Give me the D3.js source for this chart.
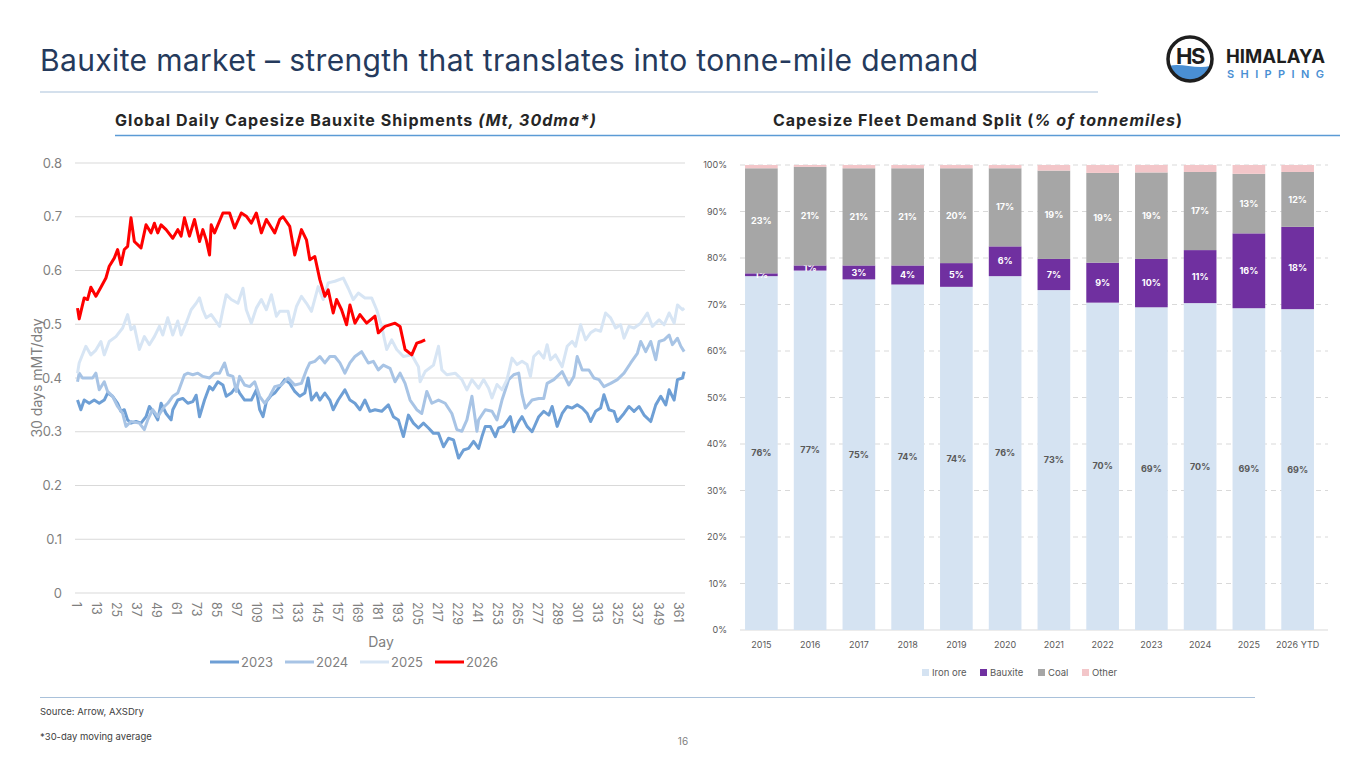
<!DOCTYPE html>
<html lang="en">
<head>
<meta charset="UTF-8">
<script src="https://d3js.org/d3.v7.min.js"></script>
<style>
  body { margin: 0; background: #fff; font-family: Inter, "Open Sans", sans-serif; }
  svg text { font-family: Inter, "Open Sans", sans-serif; }
</style>
</head>
<body>
<svg id="slide" width="1365" height="768"></svg>
<script>
// ---- left chart: 30dma shipments, [day, Mt] ----
const s2023 = [[2,0.359],[4,0.341],[6,0.359],[9,0.353],[12,0.359],[15,0.353],[18,0.359],[20,0.372],[23,0.366],[26,0.353],[28,0.338],[30,0.341],[32,0.322],[34,0.316],[37,0.319],[40,0.316],[43,0.328],[45,0.347],[48,0.334],[50,0.322],[52,0.353],[55,0.334],[58,0.322],[59,0.341],[62,0.359],[65,0.362],[68,0.353],[71,0.356],[73,0.368],[75,0.328],[78,0.359],[81,0.384],[83,0.378],[86,0.393],[89,0.387],[91,0.366],[94,0.372],[97,0.384],[99,0.372],[102,0.359],[106,0.359],[109,0.378],[111,0.341],[113,0.328],[115,0.356],[118,0.368],[120,0.372],[123,0.384],[126,0.397],[129,0.390],[132,0.375],[135,0.366],[138,0.372],[140,0.400],[142,0.359],[145,0.372],[147,0.359],[150,0.372],[153,0.359],[155,0.341],[158,0.359],[162,0.378],[165,0.359],[168,0.353],[171,0.341],[174,0.359],[177,0.338],[180,0.341],[184,0.338],[188,0.350],[191,0.328],[194,0.322],[197,0.291],[200,0.331],[203,0.316],[206,0.307],[209,0.316],[212,0.307],[215,0.297],[218,0.297],[221,0.272],[224,0.288],[227,0.285],[230,0.251],[233,0.266],[236,0.269],[239,0.282],[242,0.269],[244,0.291],[246,0.310],[249,0.310],[252,0.291],[254,0.307],[257,0.310],[261,0.328],[263,0.300],[266,0.319],[268,0.328],[271,0.310],[274,0.300],[278,0.328],[281,0.338],[284,0.331],[286,0.347],[289,0.310],[292,0.334],[295,0.347],[298,0.344],[301,0.350],[304,0.344],[307,0.334],[309,0.319],[312,0.338],[315,0.344],[317,0.369],[320,0.341],[323,0.338],[325,0.319],[329,0.334],[332,0.347],[335,0.338],[338,0.347],[341,0.331],[345,0.319],[348,0.350],[351,0.366],[354,0.350],[356,0.378],[359,0.359],[361,0.397],[364,0.400],[365,0.412]];

const s2024 = [[2,0.393],[3,0.409],[5,0.400],[11,0.400],[13,0.409],[15,0.378],[18,0.393],[20,0.375],[23,0.366],[26,0.347],[29,0.334],[31,0.310],[34,0.319],[39,0.316],[42,0.304],[44,0.322],[47,0.341],[50,0.328],[54,0.347],[56,0.353],[59,0.366],[62,0.372],[66,0.406],[68,0.409],[71,0.406],[74,0.409],[77,0.403],[81,0.400],[84,0.409],[87,0.409],[90,0.428],[92,0.406],[95,0.403],[97,0.375],[99,0.403],[102,0.387],[105,0.384],[108,0.393],[111,0.366],[114,0.353],[117,0.366],[120,0.384],[124,0.387],[128,0.400],[132,0.387],[136,0.390],[139,0.415],[141,0.428],[144,0.431],[147,0.440],[150,0.428],[153,0.440],[156,0.440],[159,0.428],[162,0.409],[165,0.428],[168,0.440],[172,0.449],[176,0.428],[179,0.431],[182,0.415],[185,0.424],[189,0.418],[192,0.393],[195,0.409],[198,0.390],[201,0.359],[205,0.341],[208,0.334],[211,0.375],[214,0.353],[218,0.359],[222,0.353],[226,0.334],[229,0.304],[232,0.301],[235,0.322],[238,0.366],[241,0.301],[242,0.322],[246,0.341],[250,0.338],[253,0.322],[256,0.359],[260,0.397],[263,0.406],[266,0.409],[268,0.369],[270,0.344],[274,0.359],[278,0.362],[281,0.362],[283,0.390],[287,0.397],[292,0.412],[296,0.387],[299,0.403],[301,0.440],[304,0.415],[308,0.415],[311,0.400],[314,0.397],[317,0.384],[321,0.390],[325,0.397],[329,0.409],[333,0.428],[337,0.446],[339,0.468],[342,0.449],[345,0.468],[348,0.434],[350,0.468],[353,0.471],[356,0.480],[358,0.462],[361,0.474],[363,0.459],[365,0.449]];

const s2025 = [[2,0.409],[3,0.428],[7,0.459],[10,0.443],[13,0.452],[16,0.468],[18,0.443],[21,0.468],[25,0.477],[29,0.493],[32,0.518],[34,0.490],[36,0.496],[39,0.453],[42,0.477],[45,0.462],[48,0.477],[51,0.496],[53,0.480],[56,0.512],[59,0.480],[62,0.506],[64,0.480],[67,0.502],[70,0.527],[73,0.539],[75,0.549],[77,0.527],[79,0.512],[82,0.518],[87,0.496],[89,0.527],[91,0.555],[94,0.546],[98,0.539],[101,0.567],[103,0.527],[106,0.502],[109,0.530],[112,0.546],[115,0.527],[118,0.555],[121,0.515],[123,0.524],[128,0.524],[130,0.496],[133,0.533],[136,0.552],[139,0.539],[142,0.524],[146,0.570],[149,0.546],[152,0.577],[156,0.580],[161,0.586],[164,0.567],[167,0.546],[170,0.558],[174,0.549],[178,0.549],[181,0.527],[184,0.496],[187,0.453],[190,0.471],[193,0.453],[197,0.440],[202,0.443],[206,0.421],[207,0.393],[210,0.412],[215,0.424],[218,0.459],[220,0.415],[223,0.406],[228,0.409],[232,0.397],[235,0.378],[238,0.397],[242,0.381],[245,0.397],[248,0.381],[250,0.363],[253,0.388],[256,0.378],[259,0.397],[262,0.437],[265,0.425],[268,0.431],[271,0.425],[273,0.403],[275,0.440],[278,0.449],[281,0.437],[283,0.462],[285,0.434],[288,0.443],[292,0.421],[295,0.459],[298,0.468],[300,0.459],[303,0.499],[306,0.471],[309,0.484],[312,0.490],[315,0.487],[318,0.521],[321,0.512],[324,0.493],[327,0.499],[329,0.474],[332,0.496],[335,0.493],[339,0.502],[343,0.521],[346,0.496],[350,0.508],[353,0.499],[356,0.521],[359,0.502],[361,0.536],[364,0.527],[365,0.530]];

const s2026 = [[2,0.530],[3,0.510],[6,0.549],[8,0.546],[10,0.569],[13,0.552],[16,0.569],[19,0.586],[21,0.608],[24,0.623],[26,0.639],[28,0.611],[30,0.639],[32,0.645],[34,0.698],[36,0.654],[40,0.642],[43,0.685],[46,0.670],[48,0.688],[50,0.670],[52,0.685],[55,0.676],[59,0.660],[62,0.676],[64,0.664],[66,0.698],[69,0.664],[72,0.695],[75,0.654],[77,0.676],[79,0.657],[81,0.629],[82,0.685],[84,0.670],[89,0.707],[93,0.707],[96,0.679],[100,0.707],[103,0.701],[106,0.688],[109,0.707],[112,0.670],[115,0.695],[118,0.680],[120,0.670],[123,0.695],[125,0.700],[129,0.682],[132,0.629],[136,0.676],[139,0.657],[141,0.620],[144,0.626],[147,0.583],[150,0.552],[152,0.564],[155,0.521],[157,0.546],[160,0.527],[163,0.499],[165,0.536],[168,0.502],[171,0.518],[175,0.502],[180,0.515],[182,0.484],[186,0.496],[192,0.502],[195,0.496],[198,0.453],[202,0.443],[205,0.465],[208,0.468],[210,0.471]];

const seriesNames = ["2023", "2024", "2025", "2026"];
const seriesColors = ["#6e9fd5", "#a8c4e5", "#d7e5f4", "#ff0000"];
const dayTicks = [1,13,25,37,49,61,73,85,97,109,121,133,145,157,169,181,193,205,217,229,241,253,265,277,289,301,313,325,337,349,361];
const shipTicks = [0, 0.1, 0.2, 0.3, 0.4, 0.5, 0.6, 0.7, 0.8];

// ---- right chart: fleet demand split, % of tonnemiles ----
const years   = ["2015","2016","2017","2018","2019","2020","2021","2022","2023","2024","2025","2026 YTD"];
const ironOre = [76.1, 77.3, 75.4, 74.3, 73.8, 76.1, 73.1, 70.4, 69.4, 70.3, 69.2, 69.0];
const bauxite = [0.6, 1.1, 3.0, 4.1, 5.1, 6.4, 6.7, 8.6, 10.4, 11.4, 16.1, 17.7];
const coal    = [22.6, 21.2, 20.9, 20.9, 20.4, 16.8, 19.0, 19.3, 18.6, 16.8, 12.8, 11.8];
const other   = [0.7, 0.4, 0.7, 0.7, 0.7, 0.7, 1.2, 1.7, 1.6, 1.5, 1.9, 1.5];
const splitKeys = ["Iron ore", "Bauxite", "Coal", "Other"];
const splitColors = ["#d5e3f2", "#7030a0", "#a6a6a6", "#f3c6c9"];
const pctTicks = [0,10,20,30,40,50,60,70,80,90,100];

const svg = d3.select("#slide");
const grey = "#7f7f7f";

// ---------- header ----------
svg.append("text").attr("x", 40).attr("y", 71)
  .attr("font-size", 30).attr("fill", "#253a5c")
  .attr("textLength", 938).attr("lengthAdjust", "spacing")
  .text("Bauxite market – strength that translates into tonne-mile demand");
svg.append("line").attr("x1", 40).attr("x2", 1098).attr("y1", 92).attr("y2", 92)
  .attr("stroke", "#a9c1da").attr("stroke-width", 1);

// logo
const logo = svg.append("g").attr("transform", "translate(1190,59)");
logo.append("clipPath").attr("id", "lc").append("circle").attr("r", 21);
logo.append("path").attr("clip-path", "url(#lc)")
  .attr("d", "M-24,8 C-10,2 6,12 24,6 L24,24 L-24,24 Z").attr("fill", "#4a8fd3");
logo.append("circle").attr("r", 22).attr("fill", "none").attr("stroke", "#1e1e1e").attr("stroke-width", 3.5);
logo.append("text").attr("x", 0).attr("y", 5).attr("text-anchor", "middle")
  .attr("font-size", 22).attr("font-weight", 700).attr("fill", "#1e1e1e")
  .attr("letter-spacing", -1.5).text("HS");
svg.append("text").attr("x", 1226).attr("y", 63).attr("font-size", 18.5).attr("font-weight", 700)
  .attr("fill", "#1e1e1e").attr("textLength", 99).text("HIMALAYA");
svg.append("text").attr("x", 1227).attr("y", 78).attr("font-size", 11).attr("font-weight", 600)
  .attr("fill", "#4a8fd3").attr("textLength", 97).text("SHIPPING");

// subtitles
const sub1 = svg.append("text").attr("x", 356).attr("y", 126).attr("text-anchor", "middle")
  .attr("font-size", 16).attr("font-weight", 700).attr("fill", "#262626").attr("letter-spacing", 1);
sub1.append("tspan").text("Global Daily Capesize Bauxite Shipments ");
sub1.append("tspan").attr("font-style", "italic").text("(Mt, 30dma*)");
const sub2 = svg.append("text").attr("x", 978).attr("y", 126).attr("text-anchor", "middle")
  .attr("font-size", 16).attr("font-weight", 700).attr("fill", "#262626").attr("letter-spacing", 1);
sub2.append("tspan").text("Capesize Fleet Demand Split (");
sub2.append("tspan").attr("font-style", "italic").text("% of tonnemiles");
sub2.append("tspan").text(")");
svg.append("line").attr("x1", 115).attr("x2", 1340).attr("y1", 135.5).attr("y2", 135.5)
  .attr("stroke", "#5b9bd5").attr("stroke-width", 1.5);

// ---------- left line chart ----------
const x = d3.scaleLinear().domain([0.5, 365.5]).range([75, 685]);
const y = d3.scaleLinear().domain([0, 0.8]).range([593, 163]);

const gl = svg.append("g");
gl.append("g").selectAll("line").data(shipTicks).join("line")
  .attr("x1", 75).attr("x2", 685).attr("y1", d => y(d)).attr("y2", d => y(d))
  .attr("stroke", "#d9d9d9").attr("stroke-width", 1);

gl.append("g").attr("transform", "translate(75,0)")
  .call(d3.axisLeft(y).tickValues(shipTicks).tickSize(0).tickPadding(13).tickFormat(d3.format("~g")))
  .call(g => g.select(".domain").remove())
  .selectAll("text").attr("font-size", 13).attr("fill", grey);

gl.append("g").attr("transform", "translate(0,593)")
  .call(d3.axisBottom(x).tickValues(dayTicks).tickSize(0))
  .call(g => g.select(".domain").remove())
  .selectAll("text")
  .attr("font-size", 12.5).attr("fill", grey)
  .attr("transform", "rotate(90)").attr("x", 9).attr("y", 0).attr("dy", "0.35em")
  .style("text-anchor", "start");

const line = d3.line().x(d => x(d[0])).y(d => y(d[1]));
[s2023, s2024, s2025, s2026].forEach((s, i) => {
  gl.append("path").datum(s).attr("d", line).attr("fill", "none")
    .attr("stroke", seriesColors[i]).attr("stroke-width", 3).attr("stroke-linejoin", "round");
});

gl.append("text").attr("x", 381).attr("y", 647).attr("text-anchor", "middle")
  .attr("font-size", 14).attr("fill", grey).text("Day");
gl.append("text").attr("transform", "translate(42,378) rotate(-90)").attr("text-anchor", "middle")
  .attr("font-size", 14).attr("fill", grey).text("30 days mMT/day");

const legX = [210, 285, 360, 435];
seriesNames.forEach((n, i) => {
  gl.append("line").attr("x1", legX[i]).attr("x2", legX[i] + 29).attr("y1", 662).attr("y2", 662)
    .attr("stroke", seriesColors[i]).attr("stroke-width", 3);
  gl.append("text").attr("x", legX[i] + 31).attr("y", 667).attr("font-size", 13)
    .attr("fill", grey).text(n);
});

// ---------- right stacked bars ----------
const rows = years.map((yr, i) => ({ year: yr, "Iron ore": ironOre[i], "Bauxite": bauxite[i], "Coal": coal[i], "Other": other[i] }));
const stack = d3.stack().keys(splitKeys)(rows);

const xb = d3.scaleBand().domain(years).range([737, 1322]).paddingInner(0.33).paddingOuter(0.165);
const yb = d3.scaleLinear().domain([0, 100]).range([630, 165]);

const gr = svg.append("g");
gr.append("g").selectAll("line").data(pctTicks.slice(1)).join("line")
  .attr("x1", 740).attr("x2", 1328).attr("y1", d => yb(d)).attr("y2", d => yb(d))
  .attr("stroke", "#d9d9d9").attr("stroke-dasharray", "5,4");
gr.append("line").attr("x1", 740).attr("x2", 1328).attr("y1", yb(0)).attr("y2", yb(0)).attr("stroke", "#d9d9d9");

gr.append("g").attr("transform", "translate(740,0)")
  .call(d3.axisLeft(yb).tickValues(pctTicks).tickSize(0).tickPadding(13).tickFormat(d => d + "%"))
  .call(g => g.select(".domain").remove())
  .selectAll("text").attr("font-size", 9).attr("fill", "#595959");

gr.append("g").attr("transform", "translate(0,630)")
  .call(d3.axisBottom(xb).tickSize(0).tickPadding(12))
  .call(g => g.select(".domain").remove())
  .selectAll("text").attr("font-size", 9).attr("fill", "#595959");

stack.forEach((layer, k) => {
  gr.append("g").attr("fill", splitColors[k]).selectAll("rect").data(layer).join("rect")
    .attr("x", d => xb(d.data.year)).attr("width", xb.bandwidth())
    .attr("y", d => yb(d[1])).attr("height", d => yb(d[0]) - yb(d[1]));
  if (k < 3) {
    gr.append("g").selectAll("text").data(layer).join("text")
      .attr("x", d => xb(d.data.year) + xb.bandwidth() / 2)
      .attr("y", d => yb((d[0] + d[1]) / 2)).attr("dy", "0.35em")
      .attr("text-anchor", "middle").attr("font-size", 9).attr("font-weight", 700)
      .attr("fill", k === 0 ? "#595959" : "#ffffff")
      .text(d => d3.format(".0f")(d[1] - d[0]) + "%");
  }
});

const legR = [922, 980, 1038, 1082];
splitKeys.forEach((n, i) => {
  gr.append("rect").attr("x", legR[i]).attr("y", 669).attr("width", 7).attr("height", 7).attr("fill", splitColors[i]);
  gr.append("text").attr("x", legR[i] + 10).attr("y", 676).attr("font-size", 9.5).attr("fill", "#595959").text(n);
});

// ---------- footer ----------
svg.append("line").attr("x1", 40).attr("x2", 1255).attr("y1", 697.5).attr("y2", 697.5)
  .attr("stroke", "#a9c1da").attr("stroke-width", 1.2);
svg.append("text").attr("x", 40).attr("y", 715).attr("font-size", 9.5).attr("fill", "#404040").text("Source: Arrow, AXSDry");
svg.append("text").attr("x", 40).attr("y", 740).attr("font-size", 9.5).attr("fill", "#404040").text("*30-day moving average");
svg.append("text").attr("x", 683).attr("y", 745).attr("text-anchor", "middle").attr("font-size", 10).attr("fill", "#7f7f7f").text("16");
</script>
</body>
</html>
